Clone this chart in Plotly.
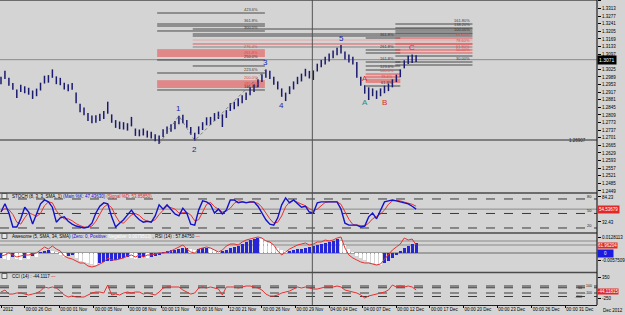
import plotly.graph_objects as go

# ---------------- data ----------------
highs = [1.2990,1.3018,1.2985,1.2960,1.2930,1.2952,1.2945,1.2938,1.2925,1.2934,
         1.2962,1.2995,1.2998,1.3025,1.2992,1.2985,1.2962,1.2955,1.2960,1.2915,
         1.2862,1.2845,1.2818,1.2806,1.2808,1.2815,1.2828,1.2872,1.2812,1.2785,
         1.2778,1.2775,1.2770,1.2800,1.2745,1.2740,1.2745,1.2735,1.2730,1.2718,
         1.2712,1.2742,1.2755,1.2765,1.2780,1.2805,1.2810,1.2785,1.2752,1.2725,
         1.2755,1.2775,1.2798,1.2800,1.2818,1.2825,1.2812,1.2832,1.2865,1.2872,
         1.2888,1.2902,1.2916,1.2940,1.2955,1.2978,1.3002,1.3025,1.3018,1.2990,
         1.2968,1.2935,1.2915,1.2945,1.2968,1.2990,1.3005,1.3028,1.3018,1.3020,
         1.3052,1.3070,1.3085,1.3100,1.3115,1.3128,1.3140,1.3110,1.3095,1.3085,
         1.3060,1.2990,1.2950,1.2940,1.2935,1.2925,1.2935,1.2948,1.2958,1.2978,
         1.3000,1.3025,1.3068,1.3090,1.3095,1.3092]
lows = [1.2955,1.2980,1.2948,1.2928,1.2890,1.2918,1.2912,1.2905,1.2885,1.2898,
        1.2925,1.2958,1.2962,1.2985,1.2955,1.2950,1.2930,1.2922,1.2928,1.2865,
        1.2822,1.2808,1.2780,1.2770,1.2772,1.2780,1.2790,1.2815,1.2772,1.2748,
        1.2742,1.2740,1.2735,1.2755,1.2710,1.2708,1.2712,1.2702,1.2698,1.2685,
        1.2672,1.2705,1.2720,1.2730,1.2742,1.2765,1.2770,1.2748,1.2715,1.2688,
        1.2718,1.2738,1.2760,1.2762,1.2780,1.2790,1.2752,1.2795,1.2828,1.2836,
        1.2850,1.2865,1.2880,1.2902,1.2918,1.2940,1.2965,1.2985,1.2980,1.2952,
        1.2930,1.2895,1.2875,1.2908,1.2930,1.2955,1.2968,1.2992,1.2982,1.2975,
        1.3015,1.3035,1.3048,1.3062,1.3078,1.3092,1.3100,1.3072,1.3058,1.3048,
        1.2985,1.2948,1.2910,1.2880,1.2898,1.2885,1.2898,1.2912,1.2922,1.2940,
        1.2965,1.2988,1.3030,1.3050,1.3055,1.3060]
stoch_k = [53,70,51,22,22,39,63,53,28,51,70,78,74,63,32,41,43,34,28,24,
           22,20,22,30,51,65,72,70,43,22,30,37,47,57,45,37,32,34,32,45,
           68,59,68,59,49,45,61,51,28,26,57,76,74,68,51,59,49,57,78,78,
           72,74,72,74,74,65,51,37,28,26,41,68,82,72,78,70,63,65,53,51,
           72,74,74,74,74,74,59,30,26,26,26,22,24,43,51,39,57,74,76,78,
           76,74,72,70,65,59]
stoch_d = [55,60,58,48,32,28,41,52,48,44,50,66,74,72,56,45,39,39,35,29,
           25,22,21,24,34,49,63,69,62,45,32,30,38,47,50,46,38,34,33,37,
           48,57,65,62,59,51,52,52,47,35,37,53,69,73,64,59,53,55,61,71,
           76,75,73,73,73,71,63,51,39,30,32,45,64,74,77,73,70,66,60,56,
           59,66,73,74,74,74,69,54,38,27,26,25,24,30,39,44,49,57,69,76,
           77,76,74,72,69,65]
ao = [-0.0040,-0.0048,-0.0056,-0.0032,-0.0048,-0.0056,-0.0040,-0.0048,-0.0024,-0.0032,
      0.0008,0.0016,0.0024,0.0016,0.0008,
      -0.0016,-0.0032,-0.0024,-0.0016,-0.0040,
      -0.0064,-0.0072,-0.0080,-0.0088,-0.0096,-0.0080,
      -0.0072,-0.0064,-0.0064,-0.0056,-0.0048,-0.0040,-0.0032,
      -0.0040,-0.0048,-0.0040,-0.0032,-0.0040,-0.0032,-0.0024,
      -0.0016,0.0008,0.0016,0.0024,0.0024,0.0032,0.0040,0.0040,0.0032,0.0024,
      0.0032,0.0040,0.0040,0.0032,0.0024,0.0016,0.0016,
      0.0024,0.0040,0.0048,0.0056,0.0072,0.0088,0.0104,0.0112,0.0120,
      0.0112,0.0096,0.0080,0.0064,0.0040,0.0024,
      0.0016,0.0016,0.0024,0.0032,0.0032,
      0.0040,0.0048,0.0056,0.0064,0.0072,0.0080,0.0088,0.0096,0.0112,
      0.0096,0.0064,0.0032,0.0008,
      -0.0024,-0.0040,-0.0056,-0.0072,-0.0080,-0.0088,
      -0.0096,-0.0080,-0.0064,-0.0040,-0.0016,
      0.0016,0.0040,0.0056,0.0072,0.0080]
rsi = [47,48,50,48,46,47,48,48,49,50,53,56,54,57,54,52,47,45,44,42,
       40,40,37,36,37,39,41,45,43,43,44,45,47,48,46,48,46,48,48,49,
       50,50,51,52,54,56,58,54,51,50,54,55,56,55,53,51,53,57,59,59,
       58,61,63,64,65,66,65,62,61,58,52,48,51,54,56,58,59,60,58,59,
       61,61,63,62,63,65,66,55,48,45,43,41,40,40,39,38,39,44,49,53,
       56,59,65,63,64,58]
cci = [-72,-14,-129,-129,-100,-100,-129,-157,-129,-100,-43,72,43,72,43,-43,-157,-215,-186,-215,
       -215,-215,-157,-100,-72,-72,-100,129,-157,-129,-157,-100,-72,-100,-72,-72,-129,-100,-129,-157,
       -72,43,72,72,72,72,-14,-72,-129,-100,43,72,43,72,43,14,-157,72,72,72,
       43,72,100,100,72,43,-14,-129,-186,-186,-157,-100,-72,-43,14,72,43,72,43,14,
       14,43,72,72,72,100,72,-14,-43,-72,-100,-157,-243,-186,-157,-129,-100,-72,-14,129,
       72,100,72,100,72,-14]

price_tick_vals = [1.3349,1.3313,1.3277,1.3241,1.3205,1.3169,1.3133,1.3097,1.3061,1.3025,
                   1.2989,1.2953,1.2917,1.2881,1.2845,1.2809,1.2773,1.2737,1.2701,1.2665,
                   1.2629,1.2593,1.2557,1.2521,1.2485,1.2449]
price_tick_text = ["1.3349","1.3313","1.3277","1.3241","1.3205","1.3169","1.3133","1.3097","","1.3025",
                   "1.2989","1.2953","1.2917","1.2881","1.2845","1.2809","1.2773","1.2737","1.2701","1.2665",
                   "1.2629","1.2593","1.2557","1.2521","1.2485","1.2449"]
date_tick_idx = [0.25,6,14.75,23.5,32.25,40.5,49,57.5,66,74.5,83,91.5,100,108.5,117,125.5,134.25,142.75]
date_tick_labels = ["2012","00:00 26 Oct","00:00 01 Nov","00:00 05 Nov","00:00 08 Nov","00:00 13 Nov",
                    "00:00 16 Nov","12:00 21 Nov","00:00 26 Nov","00:00 29 Nov","04:00 04 Dec",
                    "04:00 07 Dec","00:00 12 Dec","00:00 17 Dec","00:00 20 Dec","00:00 23 Dec",
                    "00:00 26 Dec","00:00 31 Dec"]

last_price = 1.3071
support_level = 1.26905
separator_idx = 78.75

# fibonacci tool levels (price) and their labels / kinds
fib1_range = (39.5, 66.75)
fib1_levels = [1.32921,1.32400,1.32305,1.32069,1.31169,1.31074,1.30979,1.30884,1.30695,1.30079,
               1.29700,1.29605,1.29511,1.29416,1.29274]
fib1_labels = ["423.6%","361.8%","","300.0%","276.4%","","","261.8%","250.0%","223.6%",
               "200.0%","","","185.4%","161.8%"]
fib1_kind = "ddddrrrrddrrrrd"
fib1_bands = [(1.31169,1.30837),(1.29700,1.29368)]

fibL_range = (48.5, 119.25)
fibL_levels = [1.32163,1.31926,1.31832,1.31642,1.31453,1.31311]
fibL_kind = "dddprg"
fibS_range = (48.5, 66.75)
fibS_levels = [1.30411]

fib2_range = (92.25, 101.0)
fib2_levels = [1.31737,1.31169,1.31026,1.30600,1.30411,1.30221,1.30032,1.29889,1.29747,1.29653,1.29463]
fib2_labels = ["361.8%","261.8%","","161.8%","","123.6%","100.0%","","78.6%","","61.8%"]
fib2_kind = "ddddddrrrrd"
fib2_bands = [(1.30032,1.29605)]

fib3_range = (99.75, 119.25)
fib3_levels = [1.32400,1.32211,1.32069,1.31974,1.31737,1.31453,1.31169,1.31026,1.30884,1.30600,1.30458]
fib3_labels = ["161.80%","138.20%","","100.00%","88.60%","78.60%","61.80%","50.00%","","30.00%",""]
fib3_kind = "ddddrrrrddd"

wave_text = ["1","2","3","4","5","A","A","B","C"]
wave_idx = [45,49,67,71,86,92,92,97,104]
wave_side = ["h","l","h","l","h","l","h","l","h"]
wave_group = ["n","n","n","n","n","t","r","r","r"]
wave_path_idx = [40,45,49,67]
wave_path_side = ["l","h","l","h"]

# ---------------- layout geometry ----------------
W, H = 625, 315
MR, MB = 21, 10
PW, PH = W - MR, H - MB


def fy(p):
    return (PH - p) / PH


X0 = -0.25
X1 = X0 + PW / 4.0
n = len(highs)
idx = list(range(n))

BG = "#d4d4d4"
DARK = "#3a3a3a"
RED = "#e83030"
PINK = "rgba(240,140,140,0.35)"
NAVY = "#1b1b6e"
FONT = "Liberation Sans, Arial, sans-serif"

fig = go.Figure()

# price bars
bx, by = [], []
for i in idx:
    bx += [i, i, None]
    by += [lows[i], highs[i], None]
fig.add_trace(go.Scatter(x=bx, y=by, mode="lines", line=dict(color=NAVY, width=1.5),
                         hoverinfo="skip", showlegend=False, xaxis="x", yaxis="y"))

# wave dotted path
wpy = [lows[i] if s == "l" else highs[i] for i, s in zip(wave_path_idx, wave_path_side)]
fig.add_trace(go.Scatter(x=wave_path_idx, y=wpy, mode="lines",
                         line=dict(color="#6a6a6a", width=0.8, dash="dot"),
                         showlegend=False, xaxis="x", yaxis="y"))

# stochastic
fig.add_trace(go.Scatter(x=idx, y=stoch_d, mode="lines", line=dict(color=RED, width=1),
                         showlegend=False, xaxis="x", yaxis="y2"))
fig.add_trace(go.Scatter(x=idx, y=stoch_k, mode="lines", line=dict(color="#1212c8", width=1.4),
                         showlegend=False, xaxis="x", yaxis="y2"))

# awesome oscillator
ao_col = ["#2626d6" if (i == 0 or ao[i] >= ao[i - 1]) else "#ffffff" for i in idx]
fig.add_trace(go.Bar(x=idx, y=ao, marker=dict(color=ao_col, line=dict(width=0)), width=0.75,
                     showlegend=False, xaxis="x", yaxis="y3"))
fig.add_trace(go.Scatter(x=idx, y=rsi, mode="lines", line=dict(color=RED, width=1),
                         showlegend=False, xaxis="x", yaxis="y4"))

# CCI
fig.add_trace(go.Scatter(x=idx, y=cci, mode="lines", line=dict(color=RED, width=1),
                         showlegend=False, xaxis="x", yaxis="y5"))

shapes = []
ann = []


def hline(x0, x1, y, color, yref="y", width=1, dash="solid", xref="x"):
    shapes.append(dict(type="line", xref=xref, yref=yref, x0=x0, x1=x1, y0=y, y1=y,
                       line=dict(color=color, width=width, dash=dash), layer="below"))


def kcol(k):
    return {"d": DARK, "r": "#e24a4a", "p": "#e8a0a0", "g": "#7a7a7a"}[k]


# fib bands
for (a, b) in fib1_bands:
    shapes.append(dict(type="rect", xref="x", yref="y", x0=fib1_range[0], x1=fib1_range[1], y0=a, y1=b,
                       fillcolor=PINK, line=dict(width=0), layer="below"))
for (a, b) in fib2_bands:
    shapes.append(dict(type="rect", xref="x", yref="y", x0=fib2_range[0], x1=fib2_range[1], y0=a, y1=b,
                       fillcolor=PINK, line=dict(width=0), layer="below"))
shapes.append(dict(type="rect", xref="x", yref="y", x0=fib3_range[0], x1=fib3_range[1],
                   y0=fib3_levels[4], y1=fib3_levels[7], fillcolor="rgba(240,160,160,0.22)",
                   line=dict(width=0), layer="below"))

for lv, k in zip(fib1_levels, fib1_kind):
    hline(fib1_range[0], fib1_range[1], lv, kcol(k), width=0.9)
for lv, k in zip(fibL_levels, fibL_kind):
    hline(fibL_range[0], fibL_range[1], lv, kcol(k), width=0.9)
for lv in fibS_levels:
    hline(fibS_range[0], fibS_range[1], lv, DARK, width=0.9)
for lv, k in zip(fib2_levels, fib2_kind):
    hline(fib2_range[0], fib2_range[1], lv, kcol(k), width=0.9)
for lv, k in zip(fib3_levels, fib3_kind):
    hline(fib3_range[0], fib3_range[1], lv, kcol(k), width=0.9)

# fib labels
def fib_labels(levels, labels, kinds, xpos, anchor):
    for lv, lb, k in zip(levels, labels, kinds):
        if not lb:
            continue
        ann.append(dict(x=xpos, y=lv, xref="x", yref="y", text=lb, showarrow=False,
                        xanchor=anchor, yanchor="bottom", yshift=-1,
                        font=dict(size=4, color=kcol(k), family=FONT)))


fib_labels(fib1_levels, fib1_labels, fib1_kind, fib1_range[1] - 1.3, "right")
fib_labels(fib2_levels, fib2_labels, fib2_kind, (fib2_range[0] + fib2_range[1]) / 2 + 1, "center")
fib_labels(fib3_levels, fib3_labels, fib3_kind, fib3_range[1], "right")

# current price & support
hline(0, 1, last_price, "#8a8a8a", xref="paper")
hline(0, 1, support_level, "#2a2a2a", xref="paper")
ann.append(dict(x=0.985, y=support_level, xref="paper", yref="y", text="1.26907", showarrow=False,
                xanchor="right", yanchor="middle", font=dict(size=4.5, color="#202020", family=FONT)))
ann.append(dict(x=1.0, y=last_price, xref="paper", yref="y", text="1.3071", showarrow=False,
                xanchor="left", yanchor="middle", bgcolor="#000000", borderpad=1,
                font=dict(size=5, color="#ffffff", family=FONT)))

# wave labels
wcols = {"n": "#1c1ca8", "t": "#1a8f8f", "r": "#e02828"}
for t, i, s, g in zip(wave_text, wave_idx, wave_side, wave_group):
    yv = highs[i] if s == "h" else lows[i]
    ann.append(dict(x=i, y=yv, xref="x", yref="y", text=t, showarrow=False,
                    yshift=(7 if s == "h" else -9), font=dict(size=8, color=wcols[g], family=FONT)))

# separator vertical line
shapes.append(dict(type="line", xref="x", yref="paper", x0=separator_idx, x1=separator_idx, y0=0, y1=1,
                   line=dict(color="#555555", width=1)))

# stoch levels
for lv, lt in [(80, "80"), (50, "50"), (20, "20")]:
    hline(0, 1, lv, "#3a3a3a", yref="y2", dash="dash", xref="paper")
    ann.append(dict(x=0.995, y=lv, xref="paper", yref="y2", text=lt, showarrow=False, xanchor="right",
                    yanchor="bottom", yshift=-2, font=dict(size=4, color="#202020", family=FONT)))
hline(0, 1, stoch_k[-1], "#8a8a8a", yref="y2", xref="paper")
ann.append(dict(x=1.0, y=stoch_k[-1], xref="paper", yref="y2", text="54.53679", showarrow=False,
                xanchor="left", yanchor="middle", bgcolor="#e02828", borderpad=1,
                font=dict(size=4.5, color="#ffffff", family=FONT)))

# AO lines
hline(0, 1, 0, "#6a6a6a", yref="y3", xref="paper")
hline(0, 1, rsi[-1], "#8a8a8a", yref="y4", xref="paper")
hline(0, 1, 0.0096, "#8a8a8a", yref="y3", xref="paper")
ann.append(dict(x=1.0, y=rsi[-1], xref="paper", yref="y4", text="61.96204", showarrow=False,
                xanchor="left", yanchor="middle", bgcolor="#e02828", borderpad=0,
                font=dict(size=4.5, color="#ffffff", family=FONT)))
ann.append(dict(x=1.0, y=0, xref="paper", yref="y3", text="&nbsp;&nbsp;&nbsp;&nbsp;0&nbsp;&nbsp;&nbsp;&nbsp;",
                showarrow=False, xanchor="left", yanchor="middle", bgcolor="#1a1ae0", borderpad=1,
                font=dict(size=4.5, color="#ffffff", family=FONT)))

# CCI levels
for lv, lt, xx in [(100, "100", 0.995), (50, "50", 0.978), (-100, "-100", 0.995), (-200, "-200", 0.978)]:
    hline(0, 1, lv, "#3a3a3a", yref="y5", dash="dash", xref="paper")
    ann.append(dict(x=xx, y=lv, xref="paper", yref="y5", text=lt, showarrow=False, xanchor="right",
                    yanchor="middle", font=dict(size=3.5, color="#202020", family=FONT)))
ann.append(dict(x=1.0, y=cci[-1] - 30, xref="paper", yref="y5", text="-44.11815", showarrow=False,
                xanchor="left", yanchor="middle", bgcolor="#e02828", borderpad=0,
                font=dict(size=4.5, color="#ffffff", family=FONT)))

# panel headers
hdr = [
    (fy(196), "STOCH (8, 3, 3, SMA, 1) <span style='color:#1212c8'>(Main %K: 47.43630)</span>"
              " <span style='color:#e02828'>(Signal %D: 53.85850)</span>"),
    (fy(236), "Awesome (5, SMA, 34, SMA) <span style='color:#1212c8'>(Zero: 0, Positive: </span>"
              "<span style='color:#ffffff'>Negative: 0.0079513)</span> , RSI (14) : 57.84750 "
              "<span style='color:#e02828'>—</span>"),
    (fy(276), "CCI (14) : -44.1117 <span style='color:#e02828'>—</span>"),
]
for yy, t in hdr:
    ann.append(dict(x=10 / PW, y=yy, xref="paper", yref="paper", text=t, showarrow=False,
                    xanchor="left", yanchor="middle", font=dict(size=4.5, color="#000000", family=FONT)))
    shapes.append(dict(type="rect", xref="paper", yref="paper", x0=2 / PW, x1=7 / PW,
                       y0=yy - 2.5 / PH, y1=yy + 2.5 / PH, line=dict(color="#444444", width=0.8),
                       fillcolor="#e8e8e8"))

# panel separators and frame
for p in [193, 233, 272.5]:
    shapes.append(dict(type="line", xref="paper", yref="paper", x0=0, x1=1, y0=fy(p), y1=fy(p),
                       line=dict(color="#4a4a4a", width=1.6)))
shapes.append(dict(type="line", xref="paper", yref="paper", x0=0, x1=1, y0=1, y1=1,
                   line=dict(color="#4a4a4a", width=1.5)))
shapes.append(dict(type="line", xref="paper", yref="paper", x0=1, x1=1, y0=0, y1=1,
                   line=dict(color="#202020", width=1.2)))

ann.append(dict(x=1.0, y=0, xref="paper", yref="paper", text="Dec 2012", showarrow=False,
                xanchor="left", yanchor="top", xshift=4, yshift=-1,
                font=dict(size=4.5, color="#000000", family=FONT)))

tickfont = dict(size=4.5, color="#000000", family=FONT)
yax_common = dict(side="right", showgrid=False, zeroline=False, ticks="outside", ticklen=3,
                  tickcolor="#000000", tickfont=tickfont, fixedrange=True)

fig.update_layout(
    width=W, height=H,
    margin=dict(l=0, r=MR, t=0, b=MB, pad=0),
    paper_bgcolor=BG, plot_bgcolor=BG,
    showlegend=False, bargap=0,
    font=dict(family=FONT),
    xaxis=dict(range=[X0, X1], anchor="y5", showgrid=False, zeroline=False,
               tickvals=date_tick_idx, ticktext=date_tick_labels, ticklabelposition="outside right",
               tickangle=0, ticks="outside", ticklen=2, tickcolor="#000000", tickfont=tickfont,
               showline=True, linecolor="#202020", linewidth=1),
    yaxis=dict(domain=[fy(192), 1], range=[1.24442, 1.33537], anchor="x",
               tickvals=price_tick_vals, ticktext=price_tick_text, **yax_common),
    yaxis2=dict(domain=[fy(232), fy(194)], range=[11.7, 90.3], anchor="x",
                tickvals=[84.2, 32.4], ticktext=["84.23", "32.43"], **yax_common),
    yaxis3=dict(domain=[fy(272), fy(234)], range=[-0.0152, 0.0152], anchor="x",
                tickvals=[0.0128, -0.0056], ticktext=["0.0128113", "-0.0057509"], **yax_common),
    yaxis4=dict(overlaying="y3", range=[31, 69], visible=False, fixedrange=True),
    yaxis5=dict(domain=[0, fy(273)], range=[-443, 472], anchor="x",
                tickvals=[350, -250], ticktext=["350", "-250"], **yax_common),
    shapes=shapes,
    annotations=ann,
)

fig.write_html("out.html")
